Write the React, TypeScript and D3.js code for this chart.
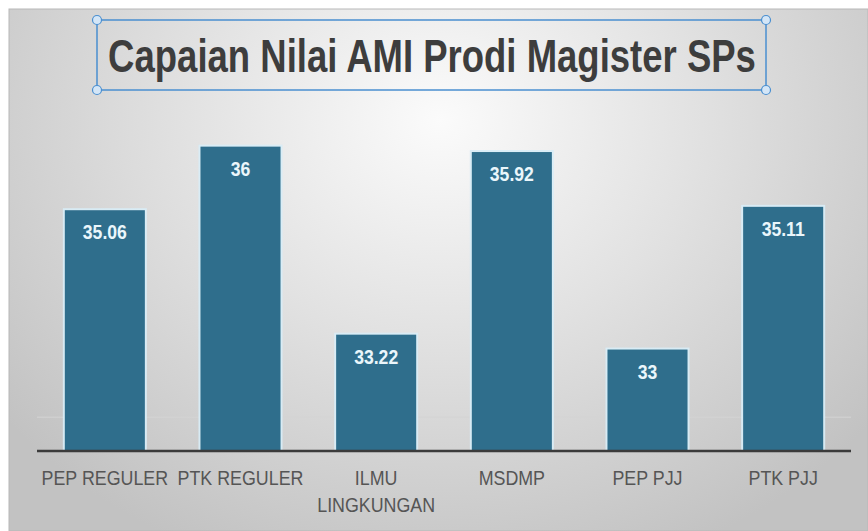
import React, { useEffect, useRef } from 'react';
import * as d3 from 'd3';

const title = 'Capaian Nilai AMI Prodi Magister SPs';
const categories = ['PEP REGULER', 'PTK REGULER', 'ILMU LINGKUNGAN', 'MSDMP', 'PEP PJJ', 'PTK PJJ'];
const values = [35.06, 36, 33.22, 35.92, 33, 35.11];
const valueLabels = ['35.06', '36', '33.22', '35.92', '33', '35.11'];
const gridValues = [32];

const W = 868;
const H = 531;

function App() {
    const ref = useRef<SVGSVGElement>(null);

    useEffect(() => {
        drawChart();
    }, []);

    function drawChart() {
        const svg = d3.select(ref.current);
        svg.selectAll('*').remove();

        // background
        const defs = svg.append('defs');
        const bg = defs.append('radialGradient')
            .attr('id', 'bg')
            .attr('gradientUnits', 'userSpaceOnUse')
            .attr('cx', 440).attr('cy', 120).attr('r', 560)
            .attr('gradientTransform', 'translate(440,120) scale(1,0.85) translate(-440,-120)');
        bg.append('stop').attr('offset', 0).attr('stop-color', '#fbfbfb');
        bg.append('stop').attr('offset', 0.45).attr('stop-color', '#e2e2e2');
        bg.append('stop').attr('offset', 1).attr('stop-color', '#c2c2c2');

        svg.append('rect').attr('width', W).attr('height', H).attr('fill', '#ffffff');
        svg.append('rect')
            .attr('x', 9).attr('y', 9)
            .attr('width', W - 9).attr('height', H - 9)
            .attr('fill', 'url(#bg)')
            .attr('stroke', '#b8b8b8')
            .attr('stroke-width', 1);

        const x = d3.scaleBand<string>()
            .domain(categories)
            .range([37, 851])
            .paddingInner(0.41)
            .paddingOuter(0.205);

        const y = d3.scaleLinear()
            .domain([31.5, 37])
            .range([451, 79]);

        // faint gridlines
        svg.append('g')
            .selectAll('line')
            .data(gridValues)
            .enter()
            .append('line')
            .attr('x1', 37).attr('x2', 851)
            .attr('y1', d => y(d)).attr('y2', d => y(d))
            .attr('stroke', '#d4d4d4')
            .attr('stroke-width', 1);

        const bars = svg.append('g')
            .selectAll('g')
            .data(values)
            .enter()
            .append('g');

        // light glow round bars
        bars.append('rect')
            .attr('x', (_, i) => (x(categories[i]) as number) - 2)
            .attr('y', d => y(d) - 2)
            .attr('width', x.bandwidth() + 4)
            .attr('height', d => y(31.5) - y(d) + 2)
            .attr('fill', '#d8edf7')
            .attr('opacity', 0.9);

        bars.append('rect')
            .attr('x', (_, i) => x(categories[i]) as number)
            .attr('y', d => y(d))
            .attr('width', x.bandwidth())
            .attr('height', d => y(31.5) - y(d))
            .attr('fill', '#2f6e8c');

        // value labels, a bit condensed
        bars.append('text')
            .attr('transform', (d, i) => `translate(${(x(categories[i]) as number) + x.bandwidth() / 2}, ${y(d) + 29}) scale(0.88,1)`)
            .attr('text-anchor', 'middle')
            .style('font-family', 'Liberation Sans, Arial, sans-serif')
            .style('font-weight', 'bold')
            .style('font-size', '20px')
            .style('fill', '#eaf6fb')
            .text((_, i) => valueLabels[i]);

        // baseline
        svg.append('line')
            .attr('x1', 37).attr('x2', 851)
            .attr('y1', y(31.5)).attr('y2', y(31.5))
            .attr('stroke', '#3b3b3b')
            .attr('stroke-width', 2.5);

        // category labels, wrapped to the band step
        const squeeze = 0.85;
        const labels = svg.append('g')
            .selectAll('text')
            .data(categories)
            .enter()
            .append('text')
            .attr('transform', d => `translate(${(x(d) as number) + x.bandwidth() / 2}, 485) scale(${squeeze},1)`)
            .attr('text-anchor', 'middle')
            .style('font-family', 'Liberation Sans, Arial, sans-serif')
            .style('font-size', '21px')
            .style('fill', '#555555');

        labels.each(function (d) {
            const text = d3.select(this);
            const words = d.split(' ');
            let line: string[] = [];
            let tspan = text.append('tspan').attr('x', 0).attr('dy', 0);
            words.forEach(w => {
                line.push(w);
                tspan.text(line.join(' '));
                const len = (tspan.node() as SVGTSpanElement).getComputedTextLength() * squeeze;
                if (len > x.step() - 2 && line.length > 1) {
                    line.pop();
                    tspan.text(line.join(' '));
                    line = [w];
                    tspan = text.append('tspan').attr('x', 0).attr('dy', 27).text(w);
                }
            });
        });

        // title with selection box
        svg.append('rect')
            .attr('x', 97).attr('y', 20)
            .attr('width', 669).attr('height', 70)
            .attr('fill', 'none')
            .attr('stroke', '#4a8fd0')
            .attr('stroke-width', 1.5);

        svg.append('g')
            .selectAll('circle')
            .data([[97, 20], [766, 20], [97, 90], [766, 90]])
            .enter()
            .append('circle')
            .attr('cx', d => d[0]).attr('cy', d => d[1])
            .attr('r', 4.5)
            .attr('fill', '#d4e6f7')
            .attr('stroke', '#4a8fd0')
            .attr('stroke-width', 1.2);

        const titleText = svg.append('text')
            .attr('text-anchor', 'middle')
            .style('font-family', 'Liberation Sans, Arial, sans-serif')
            .style('font-weight', 'bold')
            .style('font-size', '46px')
            .style('fill', '#3d3d3d')
            .text(title);
        const natural = (titleText.node() as SVGTextElement).getComputedTextLength();
        const sx = 648 / natural;
        titleText.attr('transform', `translate(432, 72) scale(${sx},1)`);
    }

    return (
        <svg
            ref={ref}
            width={W}
            height={H}
            style={{ position: 'absolute', left: 0, top: 0, display: 'block' }}
        />
    );
}

export default App;
